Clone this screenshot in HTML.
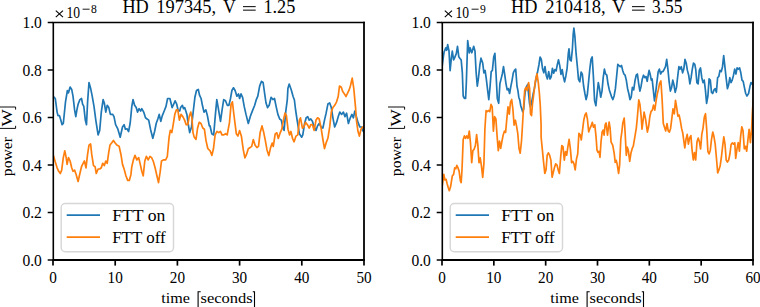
<!DOCTYPE html>
<html><head><meta charset="utf-8"><style>
html,body{margin:0;padding:0;background:#fff;width:760px;height:307px;overflow:hidden}
svg{display:block}
text{font-family:"Liberation Serif", serif;fill:#000}
</style></head><body>
<svg width="760" height="307" viewBox="0 0 760 307">
<rect width="760" height="307" fill="#fff"/>
<clipPath id="c53"><rect x="53" y="22.5" width="311" height="237.5"/></clipPath>
<g clip-path="url(#c53)"><polyline points="54.1,97.3 55.3,98.5 57.1,112.1 58.0,115.6 59.4,115.6 60.5,119.0 62.1,124.7 63.3,123.5 65.5,101.9 67.4,90.5 68.5,92.8 70.1,87.1 71.7,89.4 73.0,96.2 74.6,109.9 75.8,116.7 76.9,109.9 78.1,104.2 79.9,99.6 81.5,98.5 82.6,104.2 83.8,106.4 85.3,120.1 86.5,124.7 87.6,101.9 89.0,82.5 90.6,88.2 92.2,96.2 94.0,106.4 95.8,120.1 98.1,134.9 99.7,130.4 101.3,112.1 103.1,99.6 104.3,103.0 105.8,112.1 107.2,105.3 108.8,107.6 110.4,114.4 112.7,114.4 114.0,116.7 115.6,124.7 117.9,129.2 120.2,137.2 122.5,127.0 124.1,124.7 125.4,129.2 127.0,128.8 128.6,131.5 130.2,123.0 131.8,106.4 133.0,99.6 134.6,105.3 136.2,107.6 137.5,112.1 139.1,108.7 140.7,111.0 141.8,108.7 143.7,112.1 145.5,117.8 147.1,119.0 148.7,120.1 150.5,129.2 152.8,138.3 154.6,131.5 156.2,123.5 157.8,119.0 159.2,114.4 160.8,121.3 162.3,115.6 164.2,111.0 166.0,106.4 167.6,98.5 169.9,98.5 171.0,103.0 172.1,107.6 173.7,104.2 175.1,100.8 176.7,104.2 178.3,111.0 179.7,111.0 180.6,107.6 182.4,105.3 183.5,108.7 184.7,107.6 185.8,111.0 186.9,114.4 188.1,123.5 189.7,132.6 191.5,127.0 193.3,111.0 194.9,97.3 196.5,90.5 198.3,89.4 199.5,95.1 201.1,98.5 202.4,105.3 204.0,112.1 205.9,109.9 207.4,115.6 209.3,125.8 210.0,125.8 211.8,133.8 213.7,134.9 215.3,115.6 216.8,99.6 218.2,107.6 220.5,121.3 222.1,109.9 223.7,99.6 225.5,100.8 227.3,105.3 228.9,105.3 230.5,98.5 231.9,90.5 233.5,87.8 235.1,90.5 236.9,96.2 238.5,93.9 239.6,98.5 241.0,93.9 242.6,97.3 244.2,106.4 246.0,114.4 248.3,123.5 250.6,115.6 252.8,109.9 254.7,105.3 256.3,99.6 257.8,96.2 259.7,85.9 261.5,81.4 263.1,82.5 264.7,93.9 266.0,103.0 267.6,107.6 269.2,105.3 271.1,97.3 272.9,99.6 274.5,98.5 276.1,106.4 277.9,114.4 279.7,119.0 281.3,120.1 282.9,128.1 284.1,130.4 285.7,112.1 287.3,99.6 287.9,88.6 289.2,84.0 291.3,90.0 293.1,96.5 294.4,100.0 295.6,110.0 297.1,120.0 299.4,133.8 301.7,137.2 302.8,134.9 304.6,123.5 306.2,117.8 307.8,116.7 309.2,120.1 310.8,119.0 312.4,121.2 314.2,126.9 316.0,130.4 317.6,125.8 319.2,123.5 321.1,126.9 322.9,128.1 324.5,120.1 326.1,113.2 327.9,104.1 329.7,103.0 331.3,107.5 332.9,117.8 334.7,127.0 336.6,122.4 338.2,116.7 339.8,112.1 341.6,114.4 343.4,112.1 345.0,116.7 346.6,113.2 348.4,123.5 350.3,117.8 351.9,114.4 353.4,117.8 354.8,111.0 356.4,116.7 358.0,122.4 359.8,126.9 361.7,127.0 362.6,130.4 364.0,132.0" fill="none" stroke="#1f77b4" stroke-width="1.7" stroke-linejoin="round" stroke-linecap="square"/><polyline points="53.7,156.4 55.3,162.1 57.1,167.8 58.7,171.3 60.3,173.5 61.7,170.1 63.3,157.6 64.8,150.8 66.2,157.6 67.1,164.4 68.5,157.6 70.1,161.0 71.7,167.8 73.0,171.3 74.6,170.1 76.2,174.7 78.1,181.5 79.9,173.5 81.5,166.7 83.1,163.3 84.4,161.0 86.0,167.8 87.6,154.2 89.0,145.1 90.6,143.9 91.7,154.2 93.5,165.6 95.1,166.7 96.3,173.5 98.1,169.0 99.7,169.0 101.3,167.8 102.7,163.3 104.3,165.6 105.8,161.0 107.2,163.3 108.8,151.9 110.0,145.1 111.8,142.8 113.4,140.5 115.0,142.8 116.8,145.1 119.1,146.2 120.9,154.2 122.5,164.4 124.1,169.0 125.9,175.8 127.7,180.4 129.3,180.4 130.9,174.7 131.8,166.7 133.4,159.9 135.0,155.3 136.8,159.9 138.7,157.6 140.3,164.4 141.8,171.3 143.2,175.8 144.8,161.0 146.4,156.4 148.2,159.9 150.0,156.4 151.6,157.6 153.2,161.0 155.1,167.8 156.9,175.8 158.5,182.6 160.1,172.4 161.5,161.0 163.4,159.9 165.7,159.9 167.3,156.5 169.1,137.1 170.3,130.3 171.8,132.6 173.2,124.6 174.8,114.4 176.4,109.8 177.8,109.8 179.4,120.1 181.0,114.4 182.8,116.6 184.6,120.1 186.2,124.6 187.8,124.6 189.2,116.6 190.8,112.1 191.9,117.8 193.0,132.6 194.2,137.1 196.0,139.4 197.6,128.0 199.2,122.3 201.0,123.5 202.8,128.0 204.4,129.2 206.0,140.6 207.8,148.5 210.1,150.8 211.9,155.4 213.5,148.5 215.1,134.9 217.0,131.4 218.8,132.6 220.4,131.4 222.0,134.9 223.8,134.9 225.6,133.7 227.2,134.9 229.5,122.3 231.1,104.1 232.4,101.8 234.0,115.5 236.3,133.7 237.9,136.0 239.6,130.5 241.4,136.2 243.3,149.9 244.9,157.8 246.5,154.4 248.3,148.7 250.1,147.6 251.7,146.4 253.3,139.6 255.1,145.3 256.9,147.6 258.5,146.4 260.1,132.8 262.0,125.9 263.8,132.8 265.4,140.8 267.0,149.9 268.8,155.6 270.6,147.6 272.2,143.0 273.3,146.4 275.2,133.9 276.8,132.8 278.3,138.5 280.2,132.8 281.8,129.2 283.4,120.1 285.0,113.2 286.4,115.5 288.0,129.2 289.6,134.9 290.9,131.5 292.5,138.3 294.1,141.8 296.0,136.1 297.8,134.9 299.4,120.1 300.5,117.8 302.4,128.1 303.9,126.9 305.5,122.4 307.4,124.7 309.2,128.1 310.8,124.7 312.4,124.7 314.2,130.4 316.0,120.1 317.6,117.8 319.2,119.0 321.1,128.1 322.9,139.5 324.5,148.6 326.1,142.9 327.9,138.3 329.7,126.9 331.3,112.1 332.9,107.5 334.7,105.3 336.6,101.8 338.2,96.5 339.5,86.0 341.3,87.3 342.6,91.3 344.4,93.9 346.0,96.5 347.8,92.6 349.1,90.0 350.4,86.0 352.2,78.2 353.8,88.6 355.6,108.2 356.4,120.1 358.0,131.5 359.4,136.1 361.0,129.2 362.6,126.9 364.0,128.0" fill="none" stroke="#ff7f0e" stroke-width="1.7" stroke-linejoin="round" stroke-linecap="square"/></g>
<rect x="61.2" y="203.5" width="112.3" height="48.2" rx="4" ry="4" fill="#fff" fill-opacity="0.8" stroke="#d6d6d6" stroke-width="1.4"/>
<line x1="66.7" y1="215.2" x2="100" y2="215.2" stroke="#1f77b4" stroke-width="1.7"/>
<line x1="66.7" y1="237.2" x2="100" y2="237.2" stroke="#ff7f0e" stroke-width="1.7"/>
<line x1="53.3" y1="22.4" x2="53.3" y2="260.9" stroke="#000" stroke-width="1.6"/>
<line x1="364" y1="21.8" x2="364" y2="260.9" stroke="#000" stroke-width="1.8"/>
<line x1="52.5" y1="22.4" x2="364.9" y2="22.4" stroke="#000" stroke-width="1.5"/>
<line x1="52.5" y1="260.0" x2="364.9" y2="260.0" stroke="#000" stroke-width="1.8"/>
<line x1="47.7" y1="260.00" x2="53" y2="260.00" stroke="#000" stroke-width="1.5"/>
<text x="41.900000000000006" y="265.50" font-size="16.7" text-anchor="end" textLength="19.44" lengthAdjust="spacingAndGlyphs">0.0</text>
<line x1="47.7" y1="212.50" x2="53" y2="212.50" stroke="#000" stroke-width="1.5"/>
<text x="41.900000000000006" y="218.00" font-size="16.7" text-anchor="end" textLength="19.44" lengthAdjust="spacingAndGlyphs">0.2</text>
<line x1="47.7" y1="165.00" x2="53" y2="165.00" stroke="#000" stroke-width="1.5"/>
<text x="41.900000000000006" y="170.50" font-size="16.7" text-anchor="end" textLength="19.44" lengthAdjust="spacingAndGlyphs">0.4</text>
<line x1="47.7" y1="117.50" x2="53" y2="117.50" stroke="#000" stroke-width="1.5"/>
<text x="41.900000000000006" y="123.00" font-size="16.7" text-anchor="end" textLength="19.44" lengthAdjust="spacingAndGlyphs">0.6</text>
<line x1="47.7" y1="70.00" x2="53" y2="70.00" stroke="#000" stroke-width="1.5"/>
<text x="41.900000000000006" y="75.50" font-size="16.7" text-anchor="end" textLength="19.44" lengthAdjust="spacingAndGlyphs">0.8</text>
<line x1="47.7" y1="22.50" x2="53" y2="22.50" stroke="#000" stroke-width="1.5"/>
<text x="41.900000000000006" y="28.00" font-size="16.7" text-anchor="end" textLength="19.44" lengthAdjust="spacingAndGlyphs">1.0</text>
<line x1="53.00" y1="260.0" x2="53.00" y2="265.6" stroke="#000" stroke-width="1.7"/>
<text x="53.00" y="282.6" font-size="16.7" text-anchor="middle" textLength="7.60" lengthAdjust="spacingAndGlyphs">0</text>
<line x1="115.20" y1="260.0" x2="115.20" y2="265.6" stroke="#000" stroke-width="1.7"/>
<text x="115.20" y="282.6" font-size="16.7" text-anchor="middle" textLength="15.20" lengthAdjust="spacingAndGlyphs">10</text>
<line x1="177.40" y1="260.0" x2="177.40" y2="265.6" stroke="#000" stroke-width="1.7"/>
<text x="177.40" y="282.6" font-size="16.7" text-anchor="middle" textLength="15.20" lengthAdjust="spacingAndGlyphs">20</text>
<line x1="239.60" y1="260.0" x2="239.60" y2="265.6" stroke="#000" stroke-width="1.7"/>
<text x="239.60" y="282.6" font-size="16.7" text-anchor="middle" textLength="15.20" lengthAdjust="spacingAndGlyphs">30</text>
<line x1="301.80" y1="260.0" x2="301.80" y2="265.6" stroke="#000" stroke-width="1.7"/>
<text x="301.80" y="282.6" font-size="16.7" text-anchor="middle" textLength="15.20" lengthAdjust="spacingAndGlyphs">40</text>
<line x1="364.00" y1="260.0" x2="364.00" y2="265.6" stroke="#000" stroke-width="1.7"/>
<text x="364.00" y="282.6" font-size="16.7" text-anchor="middle" textLength="15.20" lengthAdjust="spacingAndGlyphs">50</text>
<path d="M55.8,10.6 L63,17.1 M63,10.6 L55.8,17.1" stroke="#000" stroke-width="1.1" fill="none"/>
<text x="66.4" y="18.2" font-size="16.7" textLength="13.6" lengthAdjust="spacingAndGlyphs">10</text>
<line x1="82.6" y1="9.2" x2="89.6" y2="9.2" stroke="#000" stroke-width="0.9"/>
<text x="91.1" y="12.8" font-size="11.6">8</text>
<path d="M243.0,6.65 H255.7 M243.0,10.15 H255.7" stroke="#000" stroke-width="1.0" fill="none"/>
<path d="M200.7,291.8 H198.1 V308 M252.8,291.8 H254.50000000000003 V308" stroke="#000" stroke-width="1.1" fill="none"/>
<path d="M-1,128.4 H15.6 V125.8 M-1,107.0 H15.6 V109.6" stroke="#000" stroke-width="0.95" fill="none"/>
<clipPath id="c442"><rect x="442" y="22.5" width="311" height="237.5"/></clipPath>
<g clip-path="url(#c442)"><polyline points="442.2,66.0 443.5,56.0 444.1,52.0 445.8,47.9 446.6,50.3 447.7,44.6 449.0,51.0 450.1,70.7 451.4,57.6 452.3,51.1 453.6,60.0 454.7,57.6 456.3,53.6 457.5,46.3 458.8,56.8 460.0,58.5 461.2,60.1 462.3,72.3 463.2,96.0 464.4,98.4 465.6,98.4 466.3,83.8 467.7,40.6 469.3,52.8 470.1,47.9 471.8,52.8 473.7,46.3 475.0,51.1 476.1,72.0 477.3,86.2 478.5,77.7 479.8,65.5 481.0,58.2 482.7,63.0 483.9,72.8 485.1,70.4 486.3,78.9 487.6,89.9 488.8,99.6 490.0,87.4 491.2,71.6 492.4,70.4 493.7,57.0 494.9,53.3 496.1,75.0 497.3,98.4 498.7,103.3 499.9,83.8 501.1,78.9 502.3,74.0 503.5,66.7 504.8,75.2 506.0,83.8 507.2,89.9 508.4,88.7 509.6,93.5 510.9,86.2 512.1,80.1 513.3,72.8 514.5,70.4 515.7,69.1 517.0,86.2 517.9,90.4 518.8,97.2 519.8,100.1 520.8,106.0 521.8,108.9 522.7,111.8 523.7,108.9 524.7,96.2 525.7,88.4 527.6,84.5 529.6,104.0 530.5,107.0 531.5,103.0 533.1,94.3 534.4,88.4 536.4,76.7 537.4,72.8 538.9,65.0 540.1,57.0 541.3,59.4 542.6,69.1 543.8,72.8 545.0,66.7 546.2,75.2 547.4,78.9 548.7,71.6 550.0,79.0 551.2,76.9 552.4,68.3 553.7,73.2 554.9,69.6 556.1,70.8 557.3,64.7 558.5,59.8 559.8,65.9 561.0,74.4 562.2,69.6 563.4,76.9 564.6,81.8 565.9,75.7 567.1,68.3 568.3,53.7 569.0,48.8 570.0,59.8 571.2,61.0 572.4,48.8 573.2,34.2 573.9,28.1 574.9,36.6 576.1,53.7 577.3,65.9 578.5,79.3 579.8,81.8 581.1,72.0 582.3,74.2 583.6,86.0 584.9,93.5 586.1,99.6 587.3,94.8 588.5,82.6 589.8,69.1 591.0,59.4 592.2,57.0 593.4,76.5 594.6,100.9 595.9,105.7 597.1,93.5 598.3,82.6 599.5,88.7 600.7,97.2 602.0,91.1 603.2,77.7 604.4,69.1 605.6,74.0 606.8,75.2 608.0,83.8 609.3,89.9 610.5,93.5 611.7,97.2 612.9,99.6 614.1,96.0 615.4,88.7 616.6,76.5 617.8,64.3 619.0,65.5 620.2,66.7 621.5,65.5 622.7,70.4 623.9,74.0 625.1,75.2 626.3,80.1 627.6,88.7 628.8,93.5 630.0,99.6 631.2,97.2 632.4,87.4 633.7,89.9 634.9,81.3 636.2,75.2 637.4,74.0 638.7,83.8 639.9,91.1 641.1,86.2 642.3,78.9 643.5,75.2 644.8,77.7 646.0,76.5 647.2,81.3 648.4,74.0 649.1,70.4 650.1,74.0 651.3,80.1 652.1,78.9 653.3,89.9 654.5,100.9 655.7,92.3 657.0,81.3 658.2,71.6 659.4,69.1 660.6,74.0 661.8,71.6 663.0,71.6 664.3,69.1 665.5,66.7 666.7,59.4 667.9,69.1 669.1,81.3 670.4,91.1 671.6,87.4 672.8,80.1 674.0,85.0 675.2,92.3 676.5,87.4 677.7,76.5 678.9,66.7 680.1,69.1 681.3,66.7 682.6,72.8 683.8,69.1 685.0,59.4 686.2,63.0 687.4,70.4 688.7,75.2 689.9,83.8 691.1,77.7 692.3,69.1 693.5,63.0 694.8,64.3 695.7,69.1 696.9,82.6 698.1,83.8 699.3,70.4 700.5,67.9 701.8,77.7 703.0,82.6 704.2,80.1 705.4,89.9 706.6,103.3 707.9,96.0 709.1,78.9 710.3,80.1 711.5,92.3 712.7,93.5 714.0,89.9 715.2,88.7 716.4,92.3 717.6,77.7 718.8,76.5 720.0,70.4 721.3,71.6 722.5,66.7 723.7,55.7 724.9,66.7 726.1,77.7 727.4,88.7 728.6,85.0 729.8,77.7 731.0,82.6 732.2,80.1 733.5,75.2 734.7,69.1 735.9,74.0 737.1,67.9 738.3,69.1 739.6,67.9 740.8,72.8 742.0,80.1 743.2,81.3 744.4,87.4 745.7,93.5 746.9,96.0 748.6,93.5 750.0,86.2 751.0,82.6 752.0,83.8" fill="none" stroke="#1f77b4" stroke-width="1.7" stroke-linejoin="round" stroke-linecap="square"/><polyline points="442.2,186.0 443.8,174.4 444.9,180.0 446.1,179.3 447.0,183.3 448.2,187.4 449.3,190.7 450.6,186.6 452.3,176.0 453.6,174.4 454.7,167.9 455.8,168.7 456.8,165.4 458.0,167.9 459.1,171.1 460.4,180.9 461.2,182.5 462.0,169.5 463.2,139.5 464.4,135.9 465.6,138.3 466.8,135.9 468.0,138.3 469.3,131.0 470.5,143.2 471.7,162.7 472.9,150.5 474.1,149.3 475.4,145.6 476.6,134.6 477.8,144.4 479.0,162.7 480.2,157.8 481.5,166.3 482.7,177.3 483.9,163.9 484.9,128.8 486.1,110.5 487.3,111.7 488.5,110.5 489.8,111.7 491.0,104.4 492.2,106.8 493.4,131.2 494.6,116.6 495.9,119.0 497.1,136.1 498.3,150.7 499.5,141.0 500.7,148.3 502.0,141.0 503.2,134.9 504.4,131.2 505.6,132.4 506.8,119.0 508.0,106.8 509.3,114.1 510.5,102.0 511.7,99.5 512.9,109.3 514.1,125.1 515.4,120.2 516.6,126.3 517.8,133.7 519.0,148.3 520.2,153.2 521.5,141.0 522.2,130.0 523.5,108.0 524.7,90.4 526.0,87.4 527.2,90.4 528.6,82.6 529.6,88.4 530.5,113.8 531.5,115.7 532.5,104.0 533.5,96.2 535.4,80.6 537.0,73.8 538.3,82.6 539.3,92.3 540.3,106.0 541.1,125.0 541.1,137.0 542.3,149.1 543.5,161.3 544.8,173.5 546.0,169.9 547.2,155.2 548.4,152.8 549.6,155.2 550.9,160.1 552.1,177.2 553.3,172.3 554.5,167.4 555.7,163.8 557.0,165.0 558.2,169.9 559.4,173.5 560.6,157.7 561.8,145.5 563.0,146.7 564.3,160.1 565.5,151.6 566.7,155.2 567.9,146.7 569.1,139.4 570.4,149.1 571.6,162.6 572.8,161.3 574.0,163.8 575.2,169.9 576.5,158.9 577.7,154.0 578.9,133.3 580.1,134.5 581.3,140.0 582.6,129.6 583.8,120.0 585.0,115.0 586.2,113.0 587.4,119.0 588.7,132.0 589.9,128.4 591.1,126.0 592.3,122.3 593.5,127.2 594.8,124.8 596.0,136.1 597.0,150.2 598.0,152.3 599.0,151.3 600.0,157.3 601.0,142.2 602.1,132.1 603.1,130.1 604.1,135.1 605.1,125.0 606.1,123.0 607.5,135.1 609.1,122.0 610.1,128.1 611.1,142.2 612.7,145.2 614.2,153.3 615.2,162.3 616.2,160.3 617.2,164.4 618.6,173.4 619.6,165.4 620.8,139.2 621.8,132.1 622.8,123.0 624.2,118.0 625.2,134.1 626.3,155.3 627.3,147.2 628.3,150.2 629.7,161.3 630.9,153.3 632.3,148.2 633.3,146.2 634.3,140.2 635.3,134.1 636.3,128.1 637.3,118.0 638.8,99.9 640.0,104.8 641.2,117.0 642.0,129.1 643.2,119.4 644.1,112.1 645.4,118.2 646.2,123.5 647.4,132.1 648.7,126.0 649.9,116.2 651.1,111.3 652.3,110.1 653.5,105.2 654.8,110.1 656.0,101.6 657.2,94.3 658.4,89.4 659.6,83.3 660.9,80.9 662.1,99.1 663.3,123.5 664.5,127.2 665.7,130.9 667.0,123.5 668.2,130.9 669.4,132.1 670.6,128.4 671.8,118.7 673.0,108.9 674.3,113.8 675.5,100.4 676.7,107.7 677.9,116.2 679.1,115.0 680.4,121.1 681.6,128.4 682.8,133.3 684.8,147.8 686.0,139.3 687.2,134.4 688.4,144.1 689.6,138.0 690.9,135.6 692.1,150.2 693.3,160.0 694.5,152.7 695.7,160.0 697.0,141.7 698.2,138.0 699.4,141.7 700.6,149.0 701.8,134.4 703.0,128.3 704.3,117.3 705.5,113.7 706.7,129.5 707.9,151.5 709.1,153.9 710.3,150.2 711.5,139.3 712.8,132.0 714.0,136.8 715.2,144.1 716.5,158.8 717.7,173.0 718.9,170.0 720.1,166.0 721.3,158.0 722.6,146.6 723.8,136.8 725.0,144.1 726.2,160.0 727.4,162.0 728.7,160.0 729.9,154.0 731.1,144.5 732.3,142.9 733.5,144.0 734.8,142.9 735.7,158.5 737.0,148.8 738.2,142.7 739.4,151.2 740.6,136.6 741.8,126.8 743.0,130.5 744.3,148.8 745.5,146.3 746.7,151.2 747.9,140.2 749.1,129.3 750.4,142.7 751.6,129.3 752.3,114.0 753.2,100.0" fill="none" stroke="#ff7f0e" stroke-width="1.7" stroke-linejoin="round" stroke-linecap="square"/></g>
<rect x="450.2" y="203.5" width="112.3" height="48.2" rx="4" ry="4" fill="#fff" fill-opacity="0.8" stroke="#d6d6d6" stroke-width="1.4"/>
<line x1="455.7" y1="215.2" x2="489" y2="215.2" stroke="#1f77b4" stroke-width="1.7"/>
<line x1="455.7" y1="237.2" x2="489" y2="237.2" stroke="#ff7f0e" stroke-width="1.7"/>
<line x1="442.3" y1="22.4" x2="442.3" y2="260.9" stroke="#000" stroke-width="1.6"/>
<line x1="753" y1="21.8" x2="753" y2="260.9" stroke="#000" stroke-width="1.8"/>
<line x1="441.5" y1="22.4" x2="753.9" y2="22.4" stroke="#000" stroke-width="1.5"/>
<line x1="441.5" y1="260.0" x2="753.9" y2="260.0" stroke="#000" stroke-width="1.8"/>
<line x1="436.7" y1="260.00" x2="442" y2="260.00" stroke="#000" stroke-width="1.5"/>
<text x="430.9" y="265.50" font-size="16.7" text-anchor="end" textLength="19.44" lengthAdjust="spacingAndGlyphs">0.0</text>
<line x1="436.7" y1="212.50" x2="442" y2="212.50" stroke="#000" stroke-width="1.5"/>
<text x="430.9" y="218.00" font-size="16.7" text-anchor="end" textLength="19.44" lengthAdjust="spacingAndGlyphs">0.2</text>
<line x1="436.7" y1="165.00" x2="442" y2="165.00" stroke="#000" stroke-width="1.5"/>
<text x="430.9" y="170.50" font-size="16.7" text-anchor="end" textLength="19.44" lengthAdjust="spacingAndGlyphs">0.4</text>
<line x1="436.7" y1="117.50" x2="442" y2="117.50" stroke="#000" stroke-width="1.5"/>
<text x="430.9" y="123.00" font-size="16.7" text-anchor="end" textLength="19.44" lengthAdjust="spacingAndGlyphs">0.6</text>
<line x1="436.7" y1="70.00" x2="442" y2="70.00" stroke="#000" stroke-width="1.5"/>
<text x="430.9" y="75.50" font-size="16.7" text-anchor="end" textLength="19.44" lengthAdjust="spacingAndGlyphs">0.8</text>
<line x1="436.7" y1="22.50" x2="442" y2="22.50" stroke="#000" stroke-width="1.5"/>
<text x="430.9" y="28.00" font-size="16.7" text-anchor="end" textLength="19.44" lengthAdjust="spacingAndGlyphs">1.0</text>
<line x1="442.00" y1="260.0" x2="442.00" y2="265.6" stroke="#000" stroke-width="1.7"/>
<text x="442.00" y="282.6" font-size="16.7" text-anchor="middle" textLength="7.60" lengthAdjust="spacingAndGlyphs">0</text>
<line x1="493.83" y1="260.0" x2="493.83" y2="265.6" stroke="#000" stroke-width="1.7"/>
<text x="493.83" y="282.6" font-size="16.7" text-anchor="middle" textLength="15.20" lengthAdjust="spacingAndGlyphs">10</text>
<line x1="545.67" y1="260.0" x2="545.67" y2="265.6" stroke="#000" stroke-width="1.7"/>
<text x="545.67" y="282.6" font-size="16.7" text-anchor="middle" textLength="15.20" lengthAdjust="spacingAndGlyphs">20</text>
<line x1="597.50" y1="260.0" x2="597.50" y2="265.6" stroke="#000" stroke-width="1.7"/>
<text x="597.50" y="282.6" font-size="16.7" text-anchor="middle" textLength="15.20" lengthAdjust="spacingAndGlyphs">30</text>
<line x1="649.33" y1="260.0" x2="649.33" y2="265.6" stroke="#000" stroke-width="1.7"/>
<text x="649.33" y="282.6" font-size="16.7" text-anchor="middle" textLength="15.20" lengthAdjust="spacingAndGlyphs">40</text>
<line x1="701.17" y1="260.0" x2="701.17" y2="265.6" stroke="#000" stroke-width="1.7"/>
<text x="701.17" y="282.6" font-size="16.7" text-anchor="middle" textLength="15.20" lengthAdjust="spacingAndGlyphs">50</text>
<line x1="753.00" y1="260.0" x2="753.00" y2="265.6" stroke="#000" stroke-width="1.7"/>
<text x="753.00" y="282.6" font-size="16.7" text-anchor="middle" textLength="15.20" lengthAdjust="spacingAndGlyphs">60</text>
<path d="M444.8,10.6 L452,17.1 M452,10.6 L444.8,17.1" stroke="#000" stroke-width="1.1" fill="none"/>
<text x="455.4" y="18.2" font-size="16.7" textLength="13.6" lengthAdjust="spacingAndGlyphs">10</text>
<line x1="471.6" y1="9.2" x2="478.6" y2="9.2" stroke="#000" stroke-width="0.9"/>
<text x="480.1" y="12.8" font-size="11.6">9</text>
<path d="M632.0,6.65 H644.7 M632.0,10.15 H644.7" stroke="#000" stroke-width="1.0" fill="none"/>
<path d="M589.7,291.8 H587.1 V308 M641.8000000000001,291.8 H643.5 V308" stroke="#000" stroke-width="1.1" fill="none"/>
<path d="M388,128.4 H404.6 V125.8 M388,107.0 H404.6 V109.6" stroke="#000" stroke-width="0.95" fill="none"/>
<text x="122.40" y="12.9" font-size="18.5" textLength="26.34" lengthAdjust="spacingAndGlyphs">HD</text>
<text x="156.31" y="12.9" font-size="18.5" textLength="59.81" lengthAdjust="spacingAndGlyphs">197345,</text>
<text x="223.10" y="12.9" font-size="18.5" textLength="12.86" lengthAdjust="spacingAndGlyphs">V</text>
<text x="263.41" y="12.9" font-size="18.5" textLength="31.96" lengthAdjust="spacingAndGlyphs">1.25</text>
<text x="511.00" y="12.9" font-size="18.5" textLength="26.34" lengthAdjust="spacingAndGlyphs">HD</text>
<text x="545.30" y="12.9" font-size="18.5" textLength="60.33" lengthAdjust="spacingAndGlyphs">210418,</text>
<text x="612.00" y="12.9" font-size="18.5" textLength="13.38" lengthAdjust="spacingAndGlyphs">V</text>
<text x="652.00" y="12.9" font-size="18.5" textLength="30.35" lengthAdjust="spacingAndGlyphs">3.55</text>
<text x="161.30" y="302.8" font-size="15.6" textLength="28.61" lengthAdjust="spacingAndGlyphs">time</text>
<text x="200.50" y="302.8" font-size="15.6" textLength="52.20" lengthAdjust="spacingAndGlyphs">seconds</text>
<text x="112.20" y="221.1" font-size="16.5" textLength="53.15" lengthAdjust="spacingAndGlyphs">FTT on</text>
<text x="112.20" y="243.0" font-size="16.5" textLength="53.49" lengthAdjust="spacingAndGlyphs">FTT off</text>
<text x="-176.20" y="0" font-size="15.6" textLength="39.18" lengthAdjust="spacingAndGlyphs" transform="translate(12.3 0) rotate(-90)">power</text>
<text x="-126.40" y="0" font-size="15.6" textLength="17.27" lengthAdjust="spacingAndGlyphs" transform="translate(12.3 0) rotate(-90)">W</text>
<text x="550.30" y="302.8" font-size="15.6" textLength="28.61" lengthAdjust="spacingAndGlyphs">time</text>
<text x="589.50" y="302.8" font-size="15.6" textLength="52.20" lengthAdjust="spacingAndGlyphs">seconds</text>
<text x="501.20" y="221.1" font-size="16.5" textLength="53.15" lengthAdjust="spacingAndGlyphs">FTT on</text>
<text x="501.20" y="243.0" font-size="16.5" textLength="53.49" lengthAdjust="spacingAndGlyphs">FTT off</text>
<text x="-176.20" y="0" font-size="15.6" textLength="39.18" lengthAdjust="spacingAndGlyphs" transform="translate(401.3 0) rotate(-90)">power</text>
<text x="-126.40" y="0" font-size="15.6" textLength="17.27" lengthAdjust="spacingAndGlyphs" transform="translate(401.3 0) rotate(-90)">W</text>
</svg>
</body></html>
